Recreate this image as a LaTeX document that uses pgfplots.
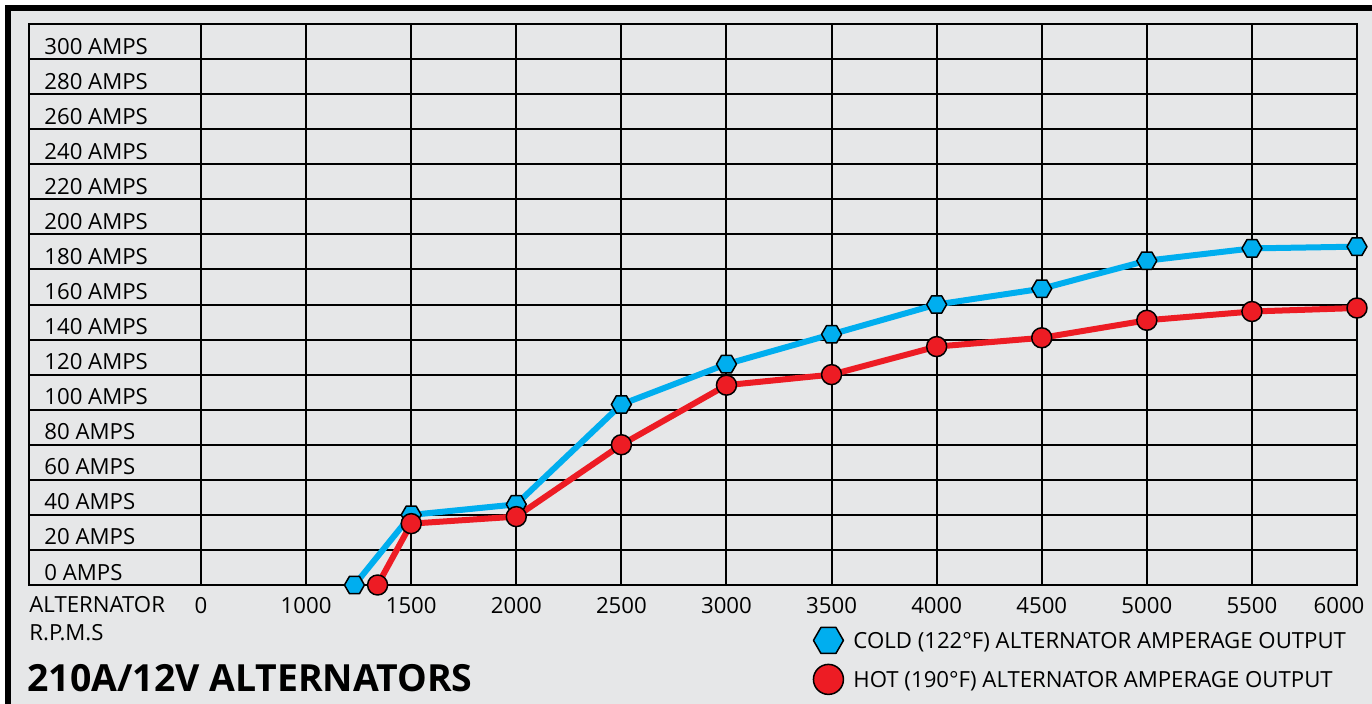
\documentclass[border=0pt]{standalone}
\usepackage{pgfplots}
\pgfplotsset{compat=1.18}
\usepackage{fontspec}
\setmainfont{Open Sans}
\definecolor{bg}{HTML}{E6E7E8}
\definecolor{cold}{HTML}{00AEEF}
\definecolor{hot}{HTML}{ED1C24}
\pgfdeclareplotmark{hexagon}{%
  \pgfpathmoveto{\pgfpointpolar{0}{\pgfplotmarksize}}%
  \pgfpathlineto{\pgfpointpolar{60}{\pgfplotmarksize}}%
  \pgfpathlineto{\pgfpointpolar{120}{\pgfplotmarksize}}%
  \pgfpathlineto{\pgfpointpolar{180}{\pgfplotmarksize}}%
  \pgfpathlineto{\pgfpointpolar{240}{\pgfplotmarksize}}%
  \pgfpathlineto{\pgfpointpolar{300}{\pgfplotmarksize}}%
  \pgfpathclose
  \pgfusepathqfillstroke}
\newcommand{\lblfont}{\fontsize{11.1bp}{13bp}\selectfont}
\begin{document}
\begin{tikzpicture}
\useasboundingbox (0,0) rectangle (686bp,352bp);
\fill[white] (0,0) rectangle (686bp,352bp);
\fill[bg] (2.5bp,0) rectangle (686bp,349.5bp);
\fill[black] (2.5bp,0) rectangle (5.5bp,349.5bp);
\fill[black] (2.5bp,346.5bp) rectangle (686bp,349.5bp);
\begin{axis}[
  at={(14.5bp,59.5bp)}, anchor=south west,
  width=664bp, height=280.5bp, scale only axis,
  xmin=-1637, xmax=6000, ymin=0, ymax=320,
  x coord trafo/.code={\pgfmathparse{#1<1000 ? #1/1000 : (#1-500)/500}},
  xtick={0,1000,1500,2000,2500,3000,3500,4000,4500,5000,5500},
  xticklabels={0,1000,1500,2000,2500,3000,3500,4000,4500,5000,5500},
  extra x ticks={6000}, extra x tick labels={6000},
  extra x tick style={grid=none, xticklabel style={xshift=-9bp}},
  ytick={0,20,...,300},
  yticklabels={0 AMPS,20 AMPS,40 AMPS,60 AMPS,80 AMPS,100 AMPS,120 AMPS,140 AMPS,160 AMPS,180 AMPS,200 AMPS,220 AMPS,240 AMPS,260 AMPS,280 AMPS,300 AMPS},
  major tick length=0pt,
  grid=major,
  major grid style={black, line width=1bp},
  axis line style={black, line width=1bp},
  tick label style={font=\lblfont, inner sep=0pt, text=black},
  xticklabel style={anchor=base, yshift=-14bp},
  yticklabel style={anchor=base west, xshift=7.5bp, yshift=2.5bp},
  clip=false,
  legend style={at={(axis description cs:0.5904,-0.0749)}, anchor=north west,
    draw=none, fill=none, inner sep=0pt, row sep=5.5bp, column sep=5bp, font=\lblfont,
    nodes={inner sep=0pt}},
  legend cell align=left,
  legend image code/.code={\draw[#1, only marks, mark size=7.5bp] plot coordinates {(7.5bp,1bp)};},
]
\addplot[cold, line width=3bp, line join=round, mark=hexagon, mark size=5bp,
  mark options={fill=cold, draw=black, line width=0.75bp}] coordinates {
  (1230,0) (1500,40) (2000,46) (2500,103) (3000,126) (3500,143)
  (4000,160) (4500,169) (5000,185) (5500,192) (6000,193)};
\addlegendentry{COLD (122°F) ALTERNATOR AMPERAGE OUTPUT}
\addplot[hot, line width=3bp, line join=round, mark=*, mark size=5bp,
  mark options={fill=hot, draw=black, line width=0.75bp}] coordinates {
  (1340,0) (1500,35) (2000,39) (2500,80) (3000,114) (3500,120)
  (4000,136) (4500,141) (5000,151) (5500,156) (6000,158)};
\addlegendentry{HOT (190°F) ALTERNATOR AMPERAGE OUTPUT}
\end{axis}
\node[anchor=base west, inner sep=0pt, font=\lblfont] at (14.5bp,45.5bp) {ALTERNATOR};
\node[anchor=base west, inner sep=0pt, font=\lblfont] at (14.5bp,32bp) {R.P.M.S};
\node[anchor=base west, inner sep=0pt, font=\fontsize{18.7bp}{20bp}\selectfont\bfseries] at (13.5bp,6.5bp) {210A/12V ALTERNATORS};
\end{tikzpicture}
\end{document}
